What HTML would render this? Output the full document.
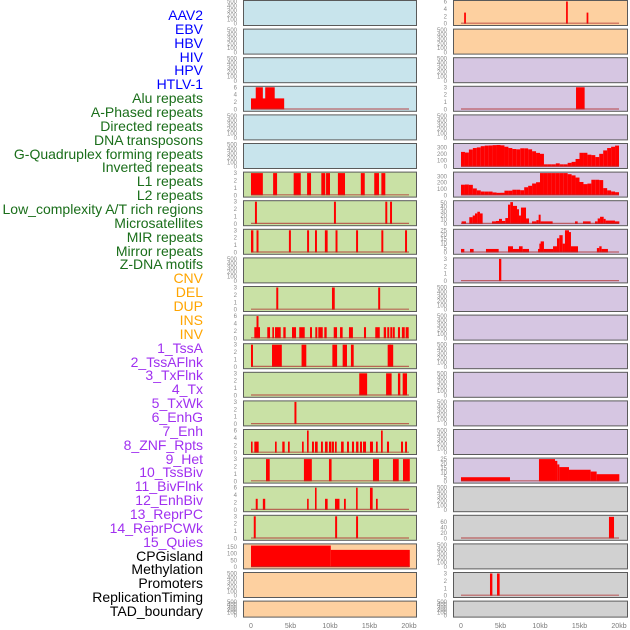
<!DOCTYPE html>
<html><head><meta charset="utf-8"><style>
html,body{margin:0;padding:0;background:#fff;}
#wrap{position:relative;width:630px;height:630px;overflow:hidden;}
.lbl{position:absolute;right:427px;font:14px "Liberation Sans",sans-serif;white-space:nowrap;line-height:14px;}
svg{position:absolute;left:0;top:0;}
</style></head><body>
<div id="wrap">
<div id="labels"></div>
<svg id="chart" width="630" height="630"></svg>
</div>
<script>
const trackNames = ["AAV2","EBV","HBV","HIV","HPV","HTLV-1","Alu repeats","A-Phased repeats","Directed repeats","DNA transposons","G-Quadruplex forming repeats","Inverted repeats","L1 repeats","L2 repeats","Low_complexity A/T rich regions","Microsatellites","MIR repeats","Mirror repeats","Z-DNA motifs","CNV","DEL","DUP","INS","INV","1_TssA","2_TssAFlnk","3_TxFlnk","4_Tx","5_TxWk","6_EnhG","7_Enh","8_ZNF_Rpts","9_Het","10_TssBiv","11_BivFlnk","12_EnhBiv","13_ReprPC","14_ReprPCWk","15_Quies","CPGisland","Methylation","Promoters","ReplicationTiming","TAD_boundary"];
const labelGroups = [6,13,5,15,5];
const xTickValues = [0,5,10,15,20];
const xTickLabels = ["0","5kb","10kb","15kb","20kb"];

// segment data: [startKb, endKb, value]
const L3 = [[0,4.2,3],[0.6,1.5,6],[1.8,3.0,6]];
const L6 = [[0,1.5,3],[2.8,3.3,3],[5.4,6.3,3],[7.1,7.6,3],[8.9,9.4,3],[9.5,10,3],[11,11.9,3],[13.9,14.4,3],[15.6,16.2,3],[16.5,17,3]];
const L7 = [[0.5,0.75,3],[10.5,10.75,3],[17,17.25,3],[17.6,17.85,3]];
const L8 = [[0,0.3,3],[0.7,0.95,3],[4.8,5.05,3],[7.1,7.35,3],[8.1,8.35,3],[9.35,9.7,3],[10.7,10.95,3],[13.3,13.55,3],[16.5,16.75,3],[19.5,19.75,3]];
const L10 = [[3.2,3.45,3],[10.25,10.6,3],[16.1,16.35,3]];
const L11 = [[0.42,1.14,3],[2.06,2.41,3],[2.7,2.91,3],[3.04,3.76,3],[4.09,4.39,3],[5.19,5.7,3],[6.11,6.8,3],[7.47,7.72,3],[8.14,8.39,3],[8.52,9.08,3],[9.28,9.58,3],[10.47,10.89,3],[11.27,11.6,3],[12.4,12.9,3],[14.3,14.56,3],[15.73,16.3,3],[16.8,17.1,3],[17.25,17.5,3],[17.63,17.9,3],[17.97,18.2,3],[18.6,18.86,3],[19.1,19.46,3],[19.58,19.96,3],[0.7,0.95,6]];
const L12 = [[0,0.25,3],[2.66,3.9,3],[6.4,7,3],[10.3,10.9,3],[11.6,12.15,3],[12.65,13,3],[17.3,17.7,3],[17.5,18,3]];
const L13 = [[13.7,14.7,3],[17.1,17.8,3],[18.6,18.9,3],[19.2,19.75,3]];
const L14 = [[5.5,5.75,3]];
const L15 = [[0,0.1,3],[0.42,0.97,3],[3.04,3.25,3],[3.96,4.26,3],[4.68,4.9,3],[6.46,6.67,3],[7.09,7.3,6],[7.72,7.97,3],[8.1,8.44,3],[8.86,9.1,3],[9.37,9.7,3],[9.87,10.13,3],[10.2,10.5,3],[10.63,10.85,3],[11.4,11.73,3],[12.15,12.4,3],[12.78,13.04,3],[13.3,13.6,3],[13.8,14.05,3],[14.18,14.56,3],[15.06,15.44,3],[15.82,16.04,3],[16.46,16.67,6],[17.21,17.47,3],[18.99,19.24,3],[19.5,19.75,3]];
const L16 = [[1.9,2.37,3],[6.7,7.7,3],[9.87,10.2,3],[15.44,16.2,3],[17.97,18.7,3],[19.24,20.1,3]];
const L17 = [[0.6,0.85,3],[1.5,1.8,3],[7.1,7.3,3],[8.1,8.3,6],[9.37,9.7,3],[10.63,11.2,3],[11.77,12,3],[13.3,13.5,6],[15.06,15.4,6],[15.82,16.04,3]];
const L18 = [[0.35,0.6,3],[10.65,10.9,3],[13.3,13.55,3]];
const L19 = [[0,10.1,160],[10.1,20.1,128]];
const R0 = [[0.4,0.62,3],[13.3,13.52,6],[15.9,16.12,3]];
const R3 = [[14.56,15.65,3]];
const R5bins = [230,220,267,290,300,319,328,330,335,338,332,310,290,275,270,286,285,270,240,215,200,37,37,37,52,37,37,60,75,120,216,216,187,180,150,200,253,290,310,328];
const R6bins = [167,170,165,108,78,60,59,59,45,39,40,73,73,88,88,80,127,150,186,206,350,350,350,350,350,350,350,333,314,280,210,176,185,245,245,240,113,78,60,49];
const R7 = [[0.08,0.63,6],[1.05,1.48,16],[1.48,1.77,20],[1.77,2.07,25],[2.07,2.4,29],[2.4,2.74,25],[3.92,4.43,6],[4.43,4.81,7],[4.81,5.19,12],[5.19,5.61,7],[5.61,5.95,14],[5.95,6.24,46],[6.24,6.58,52],[6.58,7.09,43],[7.09,7.34,35],[7.34,7.59,20],[7.59,8.23,39],[8.23,8.61,13],[8.99,9.54,6],[9.54,9.83,9],[9.83,10.08,22],[10.08,11.6,6],[14.43,14.77,6],[15.44,16.41,6],[16.96,17.3,6],[17.3,17.6,13],[17.6,18.06,17],[18.06,18.31,12],[18.31,19.49,8],[19.49,20.04,6]];
const R8 = [[0,0.42,4],[1.14,1.6,4],[3.16,4.77,4],[5.95,6.58,7],[6.58,7.34,4],[7.34,7.8,7],[7.8,8.61,4],[9.75,9.92,4],[9.92,10.08,10],[10.08,10.5,12.5],[10.5,11.65,4],[11.65,12.15,7],[12.15,12.45,16],[12.45,12.87,19.5],[12.87,13.16,10],[13.16,13.67,25],[13.67,13.92,23],[13.92,14.81,7],[17.2,17.5,5],[17.5,17.8,7],[17.8,18.6,4]];
const R9 = [[4.81,5.1,3]];
const R16 = [[0,6.2,4.6],[9.87,11.9,25],[11.9,12.19,23],[12.19,12.45,19],[12.45,13.67,16],[13.67,16.41,13],[16.41,17.17,11],[17.17,20.04,8]];
const R18 = [[18.73,19.37,78]];
const R20 = [[3.67,3.97,3],[4.56,4.89,3]];

const T500=[0,100,200,300,400,500], T3=[0,1,2,3], T6=[0,2,4,6], T300=[0,100,200,300], TCPG=[0,50,100,150], T50=[0,10,20,30,40,50], T25=[0,5,10,15,20,25], T60=[0,20,40,60];

function bins(arr){return arr.map((v,i)=>[i*0.5,i*0.5+0.5,v]);}
const BLUE="#c8e4ec",GREEN="#c9e1a5",ORANGE="#fdd0a0",PURPLE="#d6c6e2",GRAY="#d1d1d1";
const leftCol=[[null,T500,BLUE],[null,T500,BLUE],[null,T500,BLUE],[L3,T6,BLUE],[null,T500,BLUE],[null,T500,BLUE],
 [L6,T3,GREEN],[L7,T3,GREEN],[L8,T3,GREEN],[null,T500,GREEN],[L10,T3,GREEN],[L11,T6,GREEN],[L12,T3,GREEN],[L13,T3,GREEN],[L14,T3,GREEN],[L15,T6,GREEN],[L16,T3,GREEN],[L17,T6,GREEN],[L18,T3,GREEN],
 [L19,TCPG,ORANGE,165],[null,T500,ORANGE],[null,T500,ORANGE]];
const rightCol=[[R0,T6,ORANGE],[null,T500,ORANGE],[null,T500,PURPLE],[R3,T3,PURPLE],[null,T500,PURPLE],[bins(R5bins),T300,PURPLE,345],[bins(R6bins),T300,PURPLE,350],[R7,T50,PURPLE,53],[R8,T25,PURPLE],[R9,T3,PURPLE],
 [null,T500,PURPLE],[null,T500,PURPLE],[null,T500,PURPLE],[null,T500,PURPLE],[null,T500,PURPLE],[null,T500,PURPLE],[R16,T25,PURPLE],
 [null,T500,GRAY],[R18,T60,GRAY,80],[null,T500,GRAY],[R20,T3,GRAY],[null,T500,GRAY]];

const NS="http://www.w3.org/2000/svg";
const svg=document.getElementById('chart');
function mk(tag,attrs,parent){const e=document.createElementNS(NS,tag);for(const k in attrs)e.setAttribute(k,attrs[k]);(parent||svg).appendChild(e);return e;}

// labels
const colors=["#0000ff","#1a6e1a","#ffa500","#a030f0","#000000"];
const lab=document.getElementById('labels');
let gi=0,cnt=0;
trackNames.forEach((n,i)=>{
  while(cnt>=labelGroups[gi]){gi++;cnt=0;}
  cnt++;
  const d=document.createElement('div');
  d.className='lbl';
  d.textContent=n;
  d.style.top=(15+i*13.86-7)+'px';
  d.style.color=colors[gi];
  
  
  lab.appendChild(d);
});

function drawCol(col,px0,panelX0,panelX1,name){
  const xs=kb=>px0+kb*7.9;
  col.forEach((p,i)=>{
    const [segs,ticks,bg,ymaxOverride]=p;
    const top=i*28.6, h=(i===21)?16:25;
    const g=mk('g',{});
    
    
    const r=mk('rect',{x:panelX0+0.5,y:top+0.5,width:panelX1-panelX0,height:h,fill:bg,stroke:'#5a5a5a','stroke-width':1},g);
    
    
    const ymax=ymaxOverride||ticks[ticks.length-1];
    const y0=top+h-1.3, y1=top+1.5;
    const ys=v=>y0-(v/ymax)*(y0-y1);
    ticks.forEach(t=>{
      const tx=mk('text',{x:panelX0-6,y:ys(ticks[ticks.length-1]===ymax?t:t)+2,'font-size':6,'font-family':'Liberation Sans, sans-serif',fill:'#8a8a8a','text-anchor':'end'},g);
      tx.textContent=t;
      
      
    });
    if(segs){
      segs.forEach(s=>{
        const b=mk('rect',{x:xs(s[0]),y:ys(s[2]),width:Math.max(1.6,xs(s[1])-xs(s[0])),height:y0-ys(s[2]),fill:'#ff0000'},g);
        
        
      });
      const bl=mk('line',{x1:xs(0),x2:xs(20),y1:y0-0.5,y2:y0-0.5,stroke:'#b03030','stroke-width':1.2,'stroke-opacity':0.7},g);
      
      
    }
  });
  xTickValues.forEach((v,k)=>{
    const t=mk('text',{x:xs(v),y:628,'font-size':7,'font-family':'Liberation Sans, sans-serif',fill:'#7a7a7a','text-anchor':'middle'});
    t.textContent=xTickLabels[k];
    
    
  });
}
drawCol(leftCol,251,243,416,'left');
drawCol(rightCol,461,453,627,'right');
</script>
</body></html>
